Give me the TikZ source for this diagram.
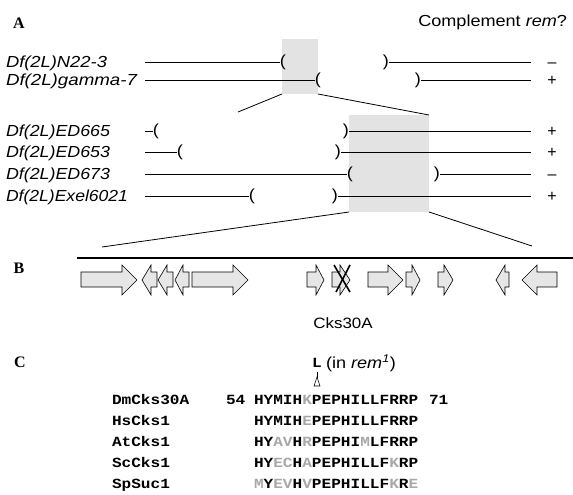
\documentclass[tikz,border=0pt]{standalone}
\usepackage{fontspec}
\setmainfont{Liberation Sans}
\newfontfamily\seqfont{Liberation Mono}
\newfontfamily\labfont{Liberation Serif}
\definecolor{boxgray}{HTML}{E3E3E3}
\definecolor{genegray}{HTML}{E6E6E6}
\definecolor{seqgray}{HTML}{A8A8A8}
\newcommand\gr[1]{\textcolor{seqgray}{#1}}
\newcommand\wsans[1]{\scalebox{1.13}[1]{#1}}
\newcommand\wmono[1]{\scalebox{1.15}[1]{#1}}
\newcommand\genearrow[3]{\draw[gene] (#1,272) -- (#2,272) -- (#2,265) -- (#3,280) -- (#2,295) -- (#2,287) -- (#1,287) -- cycle;}
\tikzset{
  every node/.style={inner sep=0pt, outer sep=0pt},
  dflabel/.style={anchor=west, font=\fontsize{16}{18}\selectfont\itshape, text height=11.5pt, text depth=0pt},
  sym/.style={font=\fontsize{16}{18}\selectfont, text height=11.5pt, text depth=0pt},
  paren/.style={font=\fontsize{16}{18}\selectfont, text height=11.5pt, text depth=3.4pt},
  panel/.style={font=\fontsize{16}{18}\selectfont\labfont\bfseries, text height=11pt, text depth=0pt},
  chrom/.style={line width=0.8pt},
  shade/.style={fill=boxgray, draw=none},
  zoomline/.style={line width=0.8pt},
  gene/.style={fill=genegray, draw=black, line width=0.6pt},
  seq/.style={anchor=west, font=\fontsize{14}{16}\selectfont\seqfont\bfseries, text height=8pt, text depth=0pt},
}
\begin{document}
\begin{tikzpicture}[x=1pt, y=-1pt]
\useasboundingbox (0,0) rectangle (573,495);
% ---------------- Panel A ----------------
\node[panel] (pA) at (19,23) {A};
\node[sym, anchor=east] (head) at (567,21) {\wsans{Complement \textit{rem}?}};
% shaded regions
\node[shade, minimum width=36pt, minimum height=55pt, anchor=north west] (box1) at (282,39) {};
\node[shade, minimum width=80pt, minimum height=97pt, anchor=north west] (box2) at (349,115) {};
\coordinate (z1) at (238,112);
\coordinate (z2) at (102,247);
\coordinate (z3) at (532,246);
\draw[zoomline] (box1.south west) -- (z1);
\draw[zoomline] (box1.south east) -- (box2.north east);
\draw[zoomline] (box2.south west) -- (z2);
\draw[zoomline] (box2.south east) -- (z3);
% rows: label, left paren, right paren, sign, label width
\foreach \name/\y/\xl/\xr/\sg/\w [count=\i] in {
  Df(2L)N22-3/62/283/386/–/101,
  Df(2L)gamma-7/80/318/418/+/131,
  Df(2L)ED665/131/156/346/+/104,
  Df(2L)ED653/152/180/338/+/104,
  Df(2L)ED673/174/350/437/–/104,
  Df(2L)Exel6021/196/252/335/+/122}{
  \node[dflabel] (lab\i) at (6,\y) {\resizebox{\w pt}{\height}{\name}};
  \coordinate (ls\i) at (145,\y);
  \node[paren] (pl\i) at (\xl,\y) {\wsans{(}};
  \node[paren] (pr\i) at (\xr,\y) {\wsans{)}};
  \coordinate (re\i) at (531,\y);
  \node[sym] (sg\i) at (552,\y) {\sg};
  \draw[chrom] (ls\i) -- (pl\i.west);
  \draw[chrom] (pr\i.east) -- (re\i);
}
% ---------------- Panel B ----------------
\node[panel] (pB) at (19,268) {B};
\coordinate (b1) at (77,258);
\coordinate (b2) at (573,258);
\draw[line width=2pt] (b1) -- (b2);
\genearrow{81}{122}{137}
\genearrow{157}{151}{142}
\genearrow{173}{167}{158}
\genearrow{189}{183}{175}
\genearrow{192}{233}{248}
\genearrow{307}{316}{324}
\genearrow{332}{340}{350}
\genearrow{368}{388}{403}
\genearrow{406}{412}{420}
\genearrow{438}{444}{453}
\genearrow{509}{505}{496}
\genearrow{557}{537}{522}
\draw[line width=1.6pt] (334,265) -- (350,292);
\draw[line width=1.6pt] (350,265) -- (336,292);
\node[sym, font=\fontsize{15}{17}\selectfont] (cks) at (343,323) {\wsans{Cks30A}};
% ---------------- Panel C ----------------
\node[panel] (pC) at (20,362) {C};
\node[seq, anchor=center] (mut) at (317,363) {\wmono{L}};
\node[sym, anchor=west] (mutlab) at (326,363) {\wsans{(in \textit{rem}\textsuperscript{\textit{1}})}};
\draw[line width=0.6pt] (317,372) -- (317,378);
\draw[line width=0.6pt] (314,386) -- (317,377) -- (320,386) -- cycle;
\foreach \nm/\y in {DmCks30A/400, HsCks1/421, AtCks1/442, ScCks1/463, SpSuc1/484}{
  \node[seq] (n\nm) at (112,\y) {\wmono{\nm}};
}
\node[seq] (start) at (226,400) {\wmono{54}};
\node[seq] (s1) at (254,400) {\wmono{HYMIH\gr{K}PEPHILLFRRP}};
\node[seq] (stop) at (429,400) {\wmono{71}};
\node[seq] (s2) at (254,421) {\wmono{HYMIH\gr{E}PEPHILLFRRP}};
\node[seq] (s3) at (254,442) {\wmono{HY\gr{AV}H\gr{R}PEPHI\gr{M}LFRRP}};
\node[seq] (s4) at (254,463) {\wmono{HY\gr{EC}H\gr{A}PEPHILLF\gr{K}RP}};
\node[seq] (s5) at (254,484) {\wmono{\gr{M}Y\gr{EV}H\gr{V}PEPHILLF\gr{K}R\gr{E}}};
\end{tikzpicture}
\end{document}
